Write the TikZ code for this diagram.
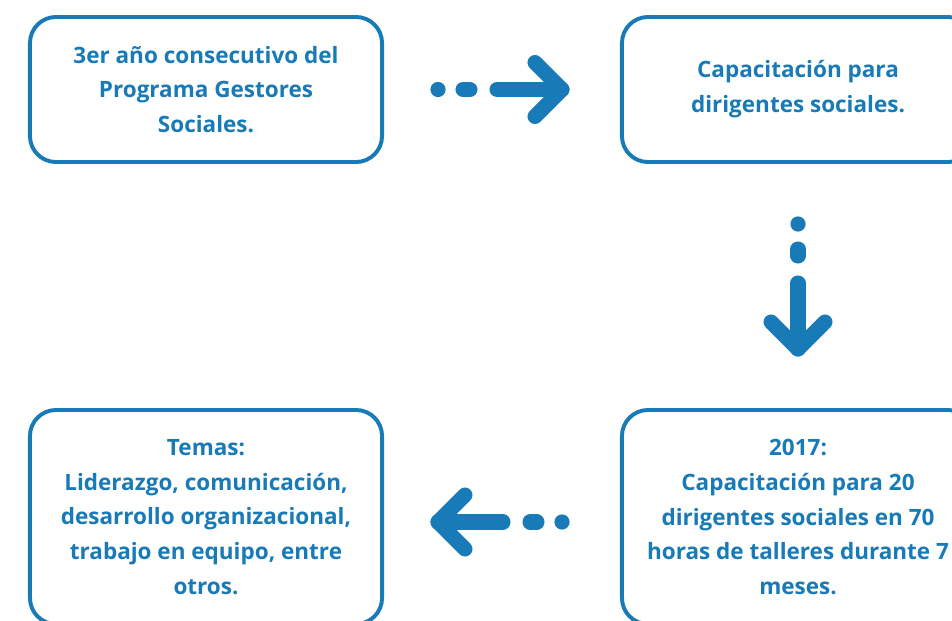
\documentclass[tikz,border=0pt]{standalone}
\usepackage{fontspec}
\setmainfont{Open Sans}
\usetikzlibrary{positioning,calc}
\definecolor{gobblue}{RGB}{24,122,182}

\begin{document}
\begin{tikzpicture}[
    x=0.025cm,
    y=-0.025cm,
    box/.style={
        draw=gobblue,
        line width=2.8pt,
        rounded corners=0.65cm,
        minimum width=8.8cm,
        minimum height=3.625cm,
        align=center,
        text=gobblue,
        font=\fontsize{16}{24.8}\selectfont\bfseries
    },
    tallbox/.style={
        box,
        minimum height=5.35cm
    },
    flow/.style={
        gobblue,
        line width=10.7pt,
        line cap=round,
        line join=round
    }
]
    \useasboundingbox (0,0) rectangle (952,620);
    \clip (0,0) rectangle (952,620);

    % The four stages
    \node[box] (programa) at (206,89.5) {3er año consecutivo del\\Programa Gestores\\Sociales.};
    \node[box] (capacitacion) at (798,89.5) {Capacitación para\\dirigentes sociales.};
    \node[tallbox] (detalle) at (798,517) {2017:\\Capacitación para 20\\dirigentes sociales en 70\\horas de talleres durante 7\\meses.};
    \node[tallbox] (temas) at (206,517) {Temas:\\Liderazgo, comunicación,\\desarrollo organizacional,\\trabajo en equipo, entre\\otros.};

    % Arrow centres between the stages
    \coordinate (toright) at ($(programa.east)!0.5!(capacitacion.west)$);
    \coordinate (todown) at ($(capacitacion.south)!0.5!(detalle.north)$);
    \coordinate (toleft) at ($(detalle.west)!0.5!(temas.east)+(-2,5)$);

    % Right arrow
    \fill[gobblue] ($(toright)+(-64,0)$) circle[radius=0.19cm];
    \draw[flow] ($(toright)+(-39,0)$) -- ($(toright)+(-32,0)$);
    \draw[flow] ($(toright)+(-5,0)$) -- ($(toright)+(60,0)$);
    \draw[flow] ($(toright)+(33,-27)$) -- ($(toright)+(60,0)$) -- ($(toright)+(33,27)$);

    % Down arrow
    \fill[gobblue] ($(todown)+(0,-62)$) circle[radius=0.19cm];
    \draw[flow] ($(todown)+(0,-37)$) -- ($(todown)+(0,-30)$);
    \draw[flow] ($(todown)+(0,-3)$) -- ($(todown)+(0,63)$);
    \draw[flow] ($(todown)+(-27,36)$) -- ($(todown)+(0,63)$) -- ($(todown)+(27,36)$);

    % Left arrow
    \fill[gobblue] ($(toleft)+(62,0)$) circle[radius=0.19cm];
    \draw[flow] ($(toleft)+(37,0)$) -- ($(toleft)+(30,0)$);
    \draw[flow] ($(toleft)+(3,0)$) -- ($(toleft)+(-62,0)$);
    \draw[flow] ($(toleft)+(-35,-27)$) -- ($(toleft)+(-62,0)$) -- ($(toleft)+(-35,27)$);
\end{tikzpicture}
\end{document}
